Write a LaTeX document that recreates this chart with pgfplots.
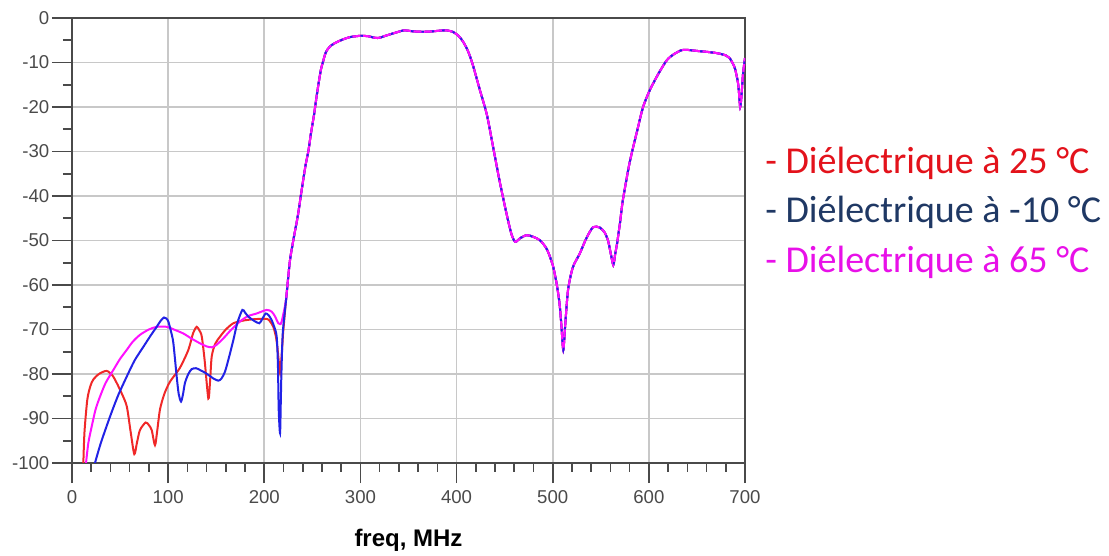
\documentclass[border=0pt]{standalone}
\usepackage{fontspec}
\setmainfont{Liberation Sans}
\newfontfamily\calibri{Carlito}
\usepackage{pgfplots}
\usepackage{pgfplotstable}
\pgfplotsset{compat=1.18}
\definecolor{cred}{HTML}{F02828}
\definecolor{cblue}{HTML}{2222E6}
\definecolor{cmag}{HTML}{FF10FF}
\definecolor{tred}{HTML}{E3121B}
\definecolor{tblue}{HTML}{1F3864}
\definecolor{tmag}{HTML}{E810E8}
\definecolor{gridc}{HTML}{C8C8C8}
\definecolor{axc}{HTML}{4A4A4A}

\pgfplotstableread{
x y
222.6 -63.4
225 -58
227 -54
231 -49
235 -44.3
239 -38.5
243 -33
245.8 -30
248.5 -26
251.7 -21.8
254.5 -17.5
257 -14
259 -11.5
261 -9.9
263.5 -8
266 -7
270 -6.1
275.6 -5.4
282 -4.8
289 -4.3
300 -4.0
308 -4.1
314 -4.4
318 -4.5
322 -4.3
326 -4.0
335 -3.4
345 -2.8
355 -3.0
365 -3.1
375 -3.0
385 -2.8
390 -2.8
396 -3.1
402 -4.0
407 -5.4
412 -7.5
417 -10.6
424 -16
431.6 -21.8
438 -29
445 -36.9
452 -44
457 -48.5
461 -50.3
466 -49.5
473 -48.8
480 -49.2
487 -50
494 -52
500 -55.5
504 -59.6
507 -64
509 -69
511 -74.6
513 -69
516 -61
521 -56
528 -53
535 -49.5
542 -47
549 -47.1
554 -48.2
557.5 -50
560 -52.5
563 -55.5
565 -53
567 -50.6
570 -46
573 -40.9
580 -32.5
588 -25.2
594 -20
601 -16.2
610 -12.5
619 -9.4
627 -8
634.5 -7.2
642 -7.2
650 -7.4
660 -7.6
671 -7.9
680 -8.4
684 -9
688 -10.5
690 -11.7
693 -15
695 -20
696.5 -17
698 -12.4
700 -9
}\common

\pgfplotstableread{
x y
11.8 -100
13 -93
15.9 -85.8
19 -82.8
22 -81.3
28 -80
36 -79.3
42 -80.3
46.5 -82
52 -84.5
57 -87.3
61 -93
64.8 -98
67.5 -95.5
70.7 -92.6
76.6 -90.9
80 -91.5
82.9 -92.6
86.3 -96
88.5 -93
91.5 -88
96 -84.5
102 -81.7
112 -78.7
121 -74.6
126 -70.8
129.7 -69.4
132.5 -70.2
135 -71.6
138 -77
141.8 -85.5
143.5 -82
145.3 -76.1
149 -73.2
154 -71.6
160 -70
167.8 -68.6
178 -68
188.6 -67.7
202.5 -67.6
206 -68.2
209.4 -69.4
212 -71.5
213.6 -73.9
215 -77
216.4 -79.8
218 -76
219.5 -71
220.5 -68.5
}\redlow

\pgfplotstableread{
x y
23.9 -100
30 -95.5
39.5 -89.6
48 -84.8
56.9 -80.6
65 -77
74.2 -73.9
82 -71.3
88.1 -69.4
92 -68.1
95.7 -67.3
98 -67.5
100.2 -68.2
103 -70.5
105.4 -73
108.9 -80.6
111 -84.5
113.4 -86.2
115.5 -84.5
117.5 -82
121 -80
124.5 -78.9
129 -78.7
133.1 -79.1
137.5 -79.6
141.8 -80.2
147 -81
152.2 -81.5
155.5 -81
159.1 -79.5
163 -76.5
167.8 -72.4
172 -68.5
177.2 -65.6
180 -66.2
183.4 -67.1
189 -68
194.8 -68.6
198 -67.6
201.5 -66.4
204.5 -66.8
207.7 -67.9
210.5 -69.5
212.9 -71.6
214.2 -78
215 -88
216.4 -93.3
217.2 -86
217.8 -80
219.2 -70.9
}\bluelow

\pgfplotstableread{
x y
14.6 -100
17 -95.5
20.5 -91.8
24.5 -88
29.1 -85.1
35 -82
43 -79.1
50 -76.6
56.9 -74.6
63 -72.8
70.7 -71.2
80 -70
88.1 -69.4
98.5 -69.4
106 -70
115.8 -70.9
124 -72
133.1 -73.1
140 -73.8
145.3 -74
150 -73.5
157.4 -72
165 -70.2
174.7 -68.2
183 -67
192.1 -66.4
202.5 -65.6
207.7 -66
211 -67
214.6 -68.6
216.5 -68.8
218.1 -68.2
}\maglow

\pgfplotstablevertcat{\redlow}{\common}
\pgfplotstablevertcat{\bluelow}{\common}
\pgfplotstablevertcat{\maglow}{\common}

\begin{document}
\begin{tikzpicture}
\begin{axis}[
  at={(0,0)}, anchor=south west,
  width=336.5pt, height=222.5pt, scale only axis,
  xmin=0, xmax=700, ymin=-100, ymax=0,
  xtick={0,100,...,700}, ytick={-100,-90,...,0},
  minor x tick num=4, minor y tick num=1,
  tick align=outside, tick pos=left,
  major tick length=10pt, minor tick length=4.5pt,
  grid=major,
  major grid style={gridc, line width=0.8pt},
  axis line style={axc, line width=1pt},
  tick style={axc, line width=0.8pt},
  ticklabel style={font=\fontsize{9.3}{11}\selectfont, text=axc},
  yticklabel style={xshift=2.2pt},
  /pgf/number format/assume math mode=true,
  xlabel={\bfseries freq, MHz},
  xlabel style={at={(axis description cs:0.5,0)}, anchor=center, yshift=-38.5pt, font=\fontsize{12}{14}\selectfont, text=black},
]
\addplot[cred, line width=1pt, smooth, tension=0.45] table {\redlow};
\addplot[cmag, line width=1pt, smooth, tension=0.45] table {\maglow};
\addplot[cblue, line width=1pt, smooth, tension=0.45] table {\bluelow};
\addplot[cmag, line width=1pt, smooth, tension=0.45] table {\common};
\addplot[cblue, line width=0.9pt, smooth, tension=0.45, dash pattern=on 1.2pt off 4pt] table {\common};
\end{axis}
\node[anchor=west, text=tred, font=\calibri\fontsize{19}{21}\selectfont, inner sep=0pt] at (346.5pt,150pt) {- Diélectrique à 25 °C};
\node[anchor=west, text=tblue, font=\calibri\fontsize{19}{21}\selectfont, inner sep=0pt] at (346.5pt,125.5pt) {- Diélectrique à -10 °C};
\node[anchor=west, text=tmag, font=\calibri\fontsize{19}{21}\selectfont, inner sep=0pt] at (346.5pt,100.5pt) {- Diélectrique à 65 °C};
\pgfresetboundingbox
\useasboundingbox (-36pt,-46.5pt) rectangle (518.5pt,231.5pt);
\end{tikzpicture}
\end{document}
